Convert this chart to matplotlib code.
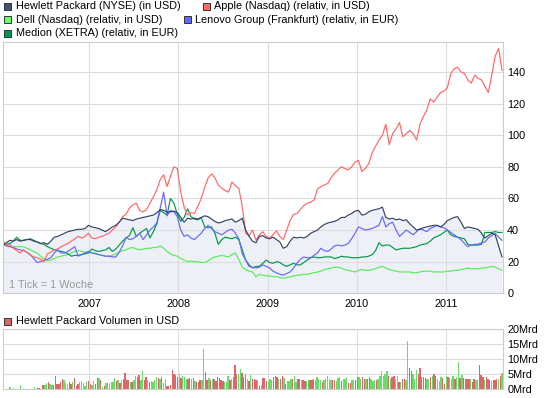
import numpy as np
import pandas as pd
import matplotlib
matplotlib.use('Agg')
import matplotlib.pyplot as plt
from matplotlib.patches import Rectangle

plt.rcParams['font.family'] = ['Liberation Sans', 'DejaVu Sans']

# weekly-ish closing values sampled every 14 days from 2006-01-13 (relative, HP in USD)
hp = [30.5, 32, 33.5, 33, 34, 33, 33.5, 34, 34, 33, 32.5, 31.5, 32, 31, 33, 35.5, 36, 37, 38, 39,
      39.5, 40, 40.5, 40.5, 41, 43, 42, 41.5, 41, 40, 39, 40.5, 42, 43, 45, 47.5, 47, 46.5, 46, 47,
      47.5, 48, 48.5, 49, 49.5, 51, 53, 52.5, 51.5, 51.5, 52, 51, 48, 45, 47.5, 47, 47.5, 47, 48, 49,
      48.5, 47, 45.5, 44.5, 45, 46, 46.5, 47, 45, 46, 47.5, 40, 36, 33, 32, 36, 36.5, 35, 34.5, 35.5,
      34, 32.5, 28.5, 29.5, 33, 35.5, 35, 35.5, 35, 36, 38, 39, 40, 42, 43.5, 44.5, 45, 45.5, 46.5, 48,
      48, 49.5, 50.5, 52, 52.5, 49.5, 50, 51.5, 52.5, 53, 53.5, 54.5, 48, 47, 47.5, 46.5, 47, 46, 46.5, 44,
      42, 40, 40.5, 41.5, 42, 42.5, 43, 43, 42, 43.5, 46, 47, 48, 48.5, 45, 41, 42, 41.5, 41, 40.5,
      38, 35, 36.5, 38, 37, 30, 23]
apple = [33.5, 30, 31, 28.5, 27, 25.5, 27.5, 26, 24, 23, 22.5, 21.5, 20, 25, 26, 27.5, 28, 29.5, 30.5, 31.5,
         33, 34.5, 36, 35, 36, 38, 35, 34.5, 35.5, 36, 37, 38, 40, 42, 45, 48.5, 50, 54, 56, 57,
         52.5, 51.5, 53, 57, 61, 65.5, 72, 75, 67.5, 74, 80, 79, 64, 54.5, 49.5, 51, 50.5, 55, 60, 67,
         73, 75.5, 73, 68.5, 66.5, 65, 64, 70.5, 68, 66.5, 55, 38, 36.5, 40, 33.7, 37, 39, 36, 35, 37,
         39.5, 36, 34, 40, 46, 50, 50.5, 53, 55.5, 57, 57.5, 59, 66, 67.5, 68.5, 69.5, 73, 76, 78, 80,
         79, 78, 80, 83, 84, 77, 79, 82, 89, 93, 97, 100, 107, 94, 101, 104, 108, 99, 101, 103,
         101, 97, 107, 112, 116, 123, 121, 124, 127, 128, 130, 139, 142, 143, 140, 139, 135, 133, 138, 136,
         135, 131, 127, 138, 150, 155, 141]
dell = [30.5, 30, 29.5, 29.5, 29.5, 29.5, 29.5, 28.5, 27.5, 26.5, 25.5, 23.5, 22, 20.5, 21, 22, 23, 23.5, 24, 24.5,
        25.5, 26.5, 27, 26.5, 26, 26, 25.5, 25.5, 24.5, 24, 23.5, 23.5, 24, 25, 26, 27, 27.5, 28.5, 29, 28,
        27.5, 28, 28.5, 28.5, 29, 29, 30, 28.5, 26.5, 25, 24, 23.5, 22, 21, 20, 20.5, 20, 20, 19.5, 19.5,
        20.5, 22, 23, 23.5, 24, 23.5, 23, 24.5, 25.5, 21.5, 16.5, 15, 14, 13.5, 10.5, 12, 11.5, 11, 11, 10.5,
        10.5, 10, 9.5, 10, 10.5, 11, 11.5, 11.5, 12, 12, 12.5, 13, 13.5, 14, 15, 15.5, 16, 16.5, 16.5, 16,
        15, 14.5, 14, 13.5, 14.5, 15, 14.5, 14.5, 15, 15.5, 16.5, 17, 16, 15, 14.5, 14, 13.5, 13.5, 13.5, 13.5,
        13, 13, 13.5, 14, 14, 14, 13.5, 13.5, 13.5, 13.5, 14, 14, 14.5, 14.5, 15, 15.5, 16, 15.5, 15.5, 15.5,
        16, 16, 16.5, 17, 16.5, 15.5, 14.5]
lenovo = [31.5, 30, 29.5, 29, 28, 27.5, 27, 26, 24.5, 22, 19.5, 20, 21, 21.5, 22.5, 25.5, 27.5, 25.5, 25.5, 26.5,
          28, 29.5, 23.5, 24.5, 25.5, 26.5, 25.5, 25, 24.5, 24, 23.5, 23.5, 23, 23, 26, 30, 35.5, 34, 34.5, 36,
          38, 34, 37, 40, 42, 44.5, 54, 64, 49, 52.5, 51.5, 48.5, 40, 36, 37, 35, 34, 36, 38, 41,
          43, 41, 39, 38, 37, 38.5, 40, 40.5, 38, 34.5, 25, 21, 17, 16.5, 16, 16.5, 18, 17, 16, 14,
          13, 12, 11.5, 12.5, 13.5, 16, 19, 21.5, 23, 22.5, 22.5, 24, 25.5, 28.5, 27, 26.5, 28, 30, 30.5, 30,
          30.5, 31.5, 34.5, 38, 42, 41, 40, 40.5, 41, 42, 43, 48.5, 42, 44, 45, 40, 36, 38, 40, 38.5,
          37, 39, 41, 40, 39, 41, 42, 43, 42, 41.5, 40, 38.5, 37, 35.5, 34, 31.5, 29.5, 30.5, 31, 31,
          32, 32.5, 35, 36.5, 38, 35.5, 33.5]
medion = [30.5, 31, 31.5, 33, 35.5, 33.5, 33.5, 34, 34.5, 33.5, 32.5, 31.5, 31, 29.5, 28.5, 27.5, 27, 26.5, 26, 25,
          23.5, 24, 24, 24.5, 25, 25.5, 28, 27, 26.5, 27, 27.5, 29, 26.5, 28, 30.5, 33, 35, 36.5, 41.5, 36,
          38, 39.5, 41, 35, 39, 44, 52.5, 51, 49.5, 60, 57, 50, 45.5, 48, 53.5, 48.5, 47, 46.5, 48, 42,
          41.5, 42, 38, 31, 34, 35.5, 35, 34.5, 35.5, 34, 27.5, 21, 18, 16, 17, 17, 19, 21, 19.5, 19,
          20, 19.5, 18, 17, 18, 19, 18, 18, 19.5, 21, 22.5, 23, 22.5, 22.5, 23, 23, 23, 22, 22.5, 23.5,
          23, 23, 22.5, 22.5, 22.5, 23, 23, 23.5, 24.5, 27, 32, 30, 30.5, 30.5, 29, 27.5, 28, 28.5, 28.5, 28.5,
          29, 29.5, 30.5, 31, 31.5, 33, 35, 36, 37, 38.5, 40, 37, 36, 35.5, 35, 34.5, 31, 30.5, 30.5, 30.5,
          31, 38.5, 38.5, 38.5, 39, 38.5, 38.5]

# HP weekly volume in Mrd USD, colour code g = up week, r = down week
volume = [0, 0, 0, 0, 0.8, 0, 0.4, 0, 0, 0, 1.4, 0, 0, 0, 0, 0, 0, 0, 0.7, 0,
          0.4, 0.4, 0, 1.4, 1.4, 2.1, 2.4, 1.8, 1.6, 1.6, 4.5,
          1.8, 1.8, 2.4, 3.4, 3, 2, 1.8, 2.3, 1.8, 2.6, 3.8, 1.2, 1.8, 2.3, 2.8, 2, 1.1, 2.6, 2.8, 1.8,
          1.4, 2.7, 1.9, 3.8, 3.8, 3.1, 0.8, 1, 2.1, 2.1, 2.2, 2.4, 2.4, 3.8, 2.8, 3, 2.2, 3, 3.5, 5.3,
          3, 3, 2.3, 2.6, 3.2, 4.6, 4.2, 4.8, 3, 6, 3, 4, 3, 2.4, 2.7, 2.6, 3, 4.2, 3.8, 3.6,
          4, 2, 3.5, 1.2, 1.2, 1.6,
          6.5, 5, 4.8, 4, 5, 3.8, 4.6, 4, 3.4, 3.4, 3.8, 3.3, 3.8, 2.8, 2.6, 2.3, 3, 3, 13.3, 5.7,
          3.2, 3.8, 3.2, 3.4, 3.4, 2.8, 4.1, 3.8, 3, 2.9, 2.6, 2.3, 4.3, 3.2, 3.4, 4, 8.1, 5, 5.1, 6.8,
          5.5, 4.1, 5, 3.6, 2.7, 4.8, 3.4, 3.4, 3, 3, 1, 1.5, 3.8, 3.8, 2.7, 2.8, 3.4, 3, 4, 4.5,
          4.1, 3.4, 3.4, 4.4, 3.7, 1.9, 2.8, 2.8, 3.4, 3.3, 4.6, 2.4, 3.4, 3.4, 3.2, 3, 2.7, 2.7, 3.1, 3.1,
          3.1, 3.6, 3, 4, 3.6, 3, 2.6, 3, 3.4, 4.3, 3.4, 3, 3, 3.2, 2.7, 3.7, 4.1, 2.7, 3.3,
          3.6, 4, 2.2, 2.2, 3.2, 3.2, 3.2, 4.1, 4.1, 3.6, 4.1, 3.4, 3.4, 3.4, 4, 3.6, 2.7, 3.2, 3.2, 3.3,
          4.3, 6, 4.3, 5, 6, 4.5, 3.6, 4.2, 4.3, 3.5, 4.4, 2.6, 2.6, 3.4, 3.4, 3, 16.2, 7, 6, 5.1,
          3.6, 6.4, 5.1, 7.2, 4.1, 4, 3.8, 3.4, 3.4, 4, 4.4, 5, 4.4, 3.4, 2.7, 4, 3.8, 1.8, 4.3, 4,
          3.8, 3.6, 4.3, 3.4, 4.1, 9.1, 3.8, 4.8, 3.8, 3.6, 3.6, 3.6, 3.4, 2.3, 3.4, 3.2, 3.2, 8.1, 4.7, 4,
          3.2, 4.1, 3.4, 3.2, 2.7, 3.1, 3, 3.5, 3.5, 4.5, 5.6]
vol_dir = ("gggggggrgggggggggggrrrrrggrggrr"
           "rrrrggg" "rrgrrrgggggrrgg" "rrgrgrggggggrgrgrrrrgrggrrggrrgrggggrgrg" "grrrr"
           "rrrgrgggrrgrgrrrggrrgrgrrrrrrgggrgrrrggrrrgrgrrrgrgrrrgggrrrgrrgrgggrggrrgrrggrrrggg"
           "grgggggrrgggrgggrrgg" "rr"
           "ggrrgrrgggrggggggrgrrggrgrrggrrgggrrrrrggrgrrgggrrgrgggrggrgrrrrgrrggrrrgrrrgrrrgrgg"
           "rrrrgrgggrrgrrr")
years = [2007, 2008, 2009, 2010, 2011]

dates = pd.date_range('2006-01-13', periods=len(hp), freq='14D')
vol_dates = pd.date_range('2006-01-13', '2011-08-19', periods=len(volume))
vol_dir = (vol_dir + 'g' * len(volume))[:len(volume)]
vol_colors = ['#66dd66' if d == 'g' else '#dd6666' for d in vol_dir]

W, H = 545, 398
fig = plt.figure(figsize=(W / 100, H / 100), dpi=100)


def box(l, t, r, b):
    return [l / W, 1 - b / H, (r - l) / W, (b - t) / H]


ax = fig.add_axes(box(3, 42, 503, 293.3))
axv = fig.add_axes(box(3, 329.3, 503, 389.3))

ax.fill_between(dates, 0, hp, color='#eef0f8', lw=0, zorder=0.3)
ax.plot(dates, dell, color='#55ee55', lw=0.85)
ax.plot(dates, medion, color='#009944', lw=0.85)
ax.plot(dates, lenovo, color='#6666ff', lw=0.85)
ax.plot(dates, apple, color='#ff6666', lw=0.85)
ax.plot(dates, hp, color='#334466', lw=0.85)

xmin, xmax = pd.Timestamp('2006-01-13'), pd.Timestamp('2011-08-23')
year_ticks = [pd.Timestamp(f'{y}-01-01') for y in years]

for a in (ax, axv):
    a.set_xlim(xmin, xmax)
    a.set_xticks(year_ticks)
    a.yaxis.tick_right()
    a.grid(color='#dddddd', lw=0.8)
    a.set_axisbelow(True)
    a.tick_params(length=0, labelsize=7.8, colors='black')
    a.tick_params(axis='y', pad=3)
    for s in a.spines.values():
        s.set_color('#cccccc')
        s.set_linewidth(0.8)

ax.set_ylim(0, 159)
ax.set_yticks(range(0, 141, 20))
ax.set_xticklabels([str(y) for y in years])
ax.tick_params(axis='x', pad=4)
ax.text(0.012, 0.02, '1 Tick = 1 Woche', transform=ax.transAxes, color='#999999', fontsize=7.8)

axv.bar(vol_dates, volume, width=5.5, color=vol_colors, lw=0)
axv.set_ylim(0, 20)
axv.set_yticks([0, 5, 10, 15, 20])
axv.set_yticklabels(['0Mrd', '5Mrd', '10Mrd', '15Mrd', '20Mrd'])
axv.set_xticklabels([])

legend_items = [
    ('Hewlett Packard (NYSE) (in USD)', '#445577', 4, 6.3),
    ('Apple (Nasdaq) (relativ, in USD)', '#ff6666', 203, 6.3),
    ('Dell (Nasdaq) (relativ, in USD)', '#66ff66', 4, 19.8),
    ('Lenovo Group (Frankfurt) (relativ, in EUR)', '#6666ff', 183.5, 19.8),
    ('Medion (XETRA) (relativ, in EUR)', '#009955', 4, 33.5),
    ('Hewlett Packard Volumen in USD', '#dd6666', 4, 321),
]
for label, col, x, yc in legend_items:
    fig.add_artist(Rectangle((x / W, 1 - (yc + 3.5) / H), 7 / W, 7 / H, transform=fig.transFigure,
                             facecolor=col, edgecolor='#333333', lw=0.7))
    fig.text((x + 11.5) / W, 1 - yc / H, label, fontsize=7.8, va='center', ha='left')

fig.savefig('out.png', dpi=100)
